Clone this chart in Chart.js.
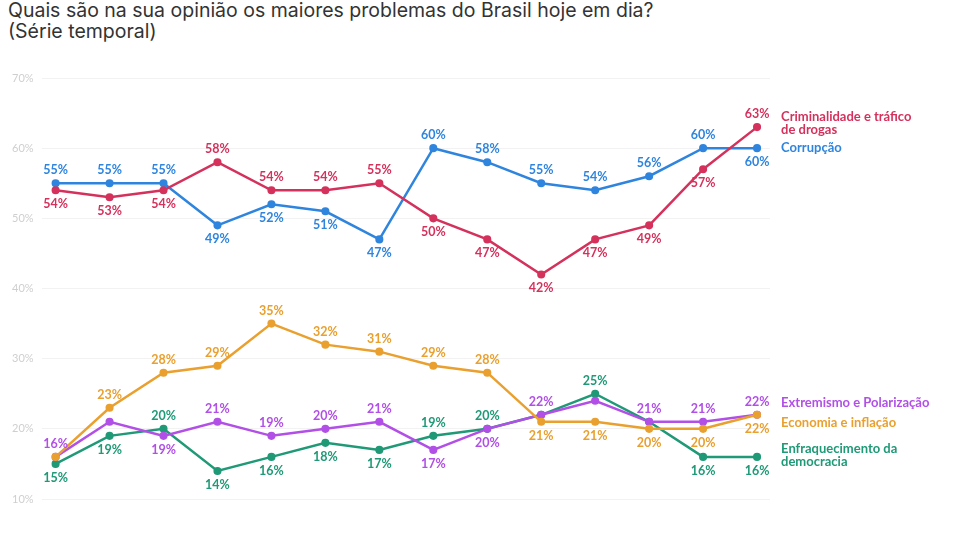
<!DOCTYPE html>
<html>
<head>
<meta charset="utf-8">
<script src="https://cdn.jsdelivr.net/npm/chart.js@4"></script>
<style>
  body { margin: 0; background: #fff; }
  #wrap { position: relative; width: 960px; height: 540px; overflow: hidden; }
  #titre { position: absolute; left: 8px; top: 0px; font-family: Inter, "Open Sans", sans-serif; font-size: 19.5px; line-height: 21px; color: #333; }
  canvas { position: absolute; left: 0; top: 0; }
</style>
</head>
<body>
<div id="wrap">
  <div id="titre">Quais são na sua opinião os maiores problemas do Brasil hoje em dia?<br>(Série temporal)</div>
  <canvas id="graf" width="960" height="540"></canvas>
</div>
<script>
// Données (14 vagues d'enquête)
const vagues = [0, 1, 2, 3, 4, 5, 6, 7, 8, 9, 10, 11, 12, 13];

const criminalidade = [54, 53, 54, 58, 54, 54, 55, 50, 47, 42, 47, 49, 57, 63];
const corrupcao = [55, 55, 55, 49, 52, 51, 47, 60, 58, 55, 54, 56, 60, 60];
const economia = [16, 23, 28, 29, 35, 32, 31, 29, 28, 21, 21, 20, 20, 22];
const extremismo = [16, 21, 19, 21, 19, 20, 21, 17, 20, 22, 24, 21, 21, 22];
const enfraquecimento = [15, 19, 20, 14, 16, 18, 17, 19, 20, 22, 25, 21, 16, 16];

const ticksY = [10, 20, 30, 40, 50, 60, 70];

// Placement des étiquettes : 'a' = au-dessus, 'b' = en dessous, '' = pas d'étiquette
const posCrim = ['b','b','b','a','a','a','a','b','b','b','b','b','b','a'];
const posCorr = ['a','a','a','b','b','b','b','a','a','a','a','a','a','b'];
const posEco  = ['','a','a','a','a','a','a','a','a','b','b','b','b','b'];
const posExt  = ['a','','b','a','a','a','a','b','b','a','','a','a','a'];
const posEnf  = ['b','b','a','b','b','b','b','a','a','','a','','b','b'];

function serie(nom, lignes, valeurs, couleur, positions, decalNom) {
    return {
        label: nom,
        nomLignes: lignes,
        decalNom: decalNom,
        positions: positions,
        data: vagues.map((x, i) => ({ x: x, y: valeurs[i] })),
        borderColor: couleur,
        backgroundColor: couleur,
        borderWidth: 2.5,
        pointRadius: 2.8,
        pointHoverRadius: 2.8,
        tension: 0
    };
}

// Plugin maison : pourcentages sur les points + nom de la série à droite
const etiquettes = {
    id: 'etiquettes',
    afterDatasetsDraw(chart) {
        const ctx = chart.ctx;
        ctx.save();
        chart.data.datasets.forEach((ds, di) => {
            const meta = chart.getDatasetMeta(di);
            ctx.fillStyle = ds.borderColor;
            ctx.font = 'bold 12.5px Lato, "Open Sans", sans-serif';
            ctx.textAlign = 'center';
            ctx.textBaseline = 'middle';
            meta.data.forEach((pt, i) => {
                const p = ds.positions[i];
                if (!p) return;
                const dy = p === 'a' ? -13 : 14;
                ctx.fillText(ds.data[i].y + '%', pt.x, pt.y + dy);
            });
            // nom de la série
            const dernier = meta.data[meta.data.length - 1];
            ctx.textAlign = 'left';
            ctx.font = 'bold 13px Lato, "Open Sans", sans-serif';
            ds.nomLignes.forEach((l, k) => {
                ctx.fillText(l, dernier.x + 24, dernier.y + ds.decalNom + k * 13);
            });
        });
        ctx.restore();
    }
};

initGraph();

function initGraph() {
    const ctx = document.getElementById('graf').getContext('2d');
    return new Chart(ctx, {
        type: 'line',
        data: {
            datasets: [
                serie('Criminalidade e tráfico de drogas', ['Criminalidade e tráfico', 'de drogas'], criminalidade, '#d4325c', posCrim, -10),
                serie('Corrupção', ['Corrupção'], corrupcao, '#2f85de', posCorr, 0),
                serie('Economia e inflação', ['Economia e inflação'], economia, '#e9a02f', posEco, 8),
                serie('Extremismo e Polarização', ['Extremismo e Polarização'], extremismo, '#b14fe6', posExt, -12),
                serie('Enfraquecimento da democracia', ['Enfraquecimento da', 'democracia'], enfraquecimento, '#1f9976', posEnf, -8)
            ]
        },
        options: {
            responsive: false,
            animation: false,
            layout: { padding: { top: 78, right: 190, bottom: 41, left: 4 } },
            plugins: {
                legend: { display: false },
                tooltip: { enabled: false }
            },
            scales: {
                x: {
                    type: 'linear',
                    min: -0.26,
                    max: 13.24,
                    display: false
                },
                y: {
                    min: 10,
                    max: 70,
                    afterBuildTicks: (axis) => { axis.ticks = ticksY.map(v => ({ value: v })); },
                    border: { display: false },
                    grid: { color: '#f2f2f2', drawTicks: false },
                    ticks: {
                        color: '#cfcfcf',
                        padding: 8,
                        font: { family: 'Lato, "Open Sans", sans-serif', size: 11 },
                        callback: (v) => v + '%'
                    }
                }
            }
        },
        plugins: [etiquettes]
    });
}
</script>
</body>
</html>
